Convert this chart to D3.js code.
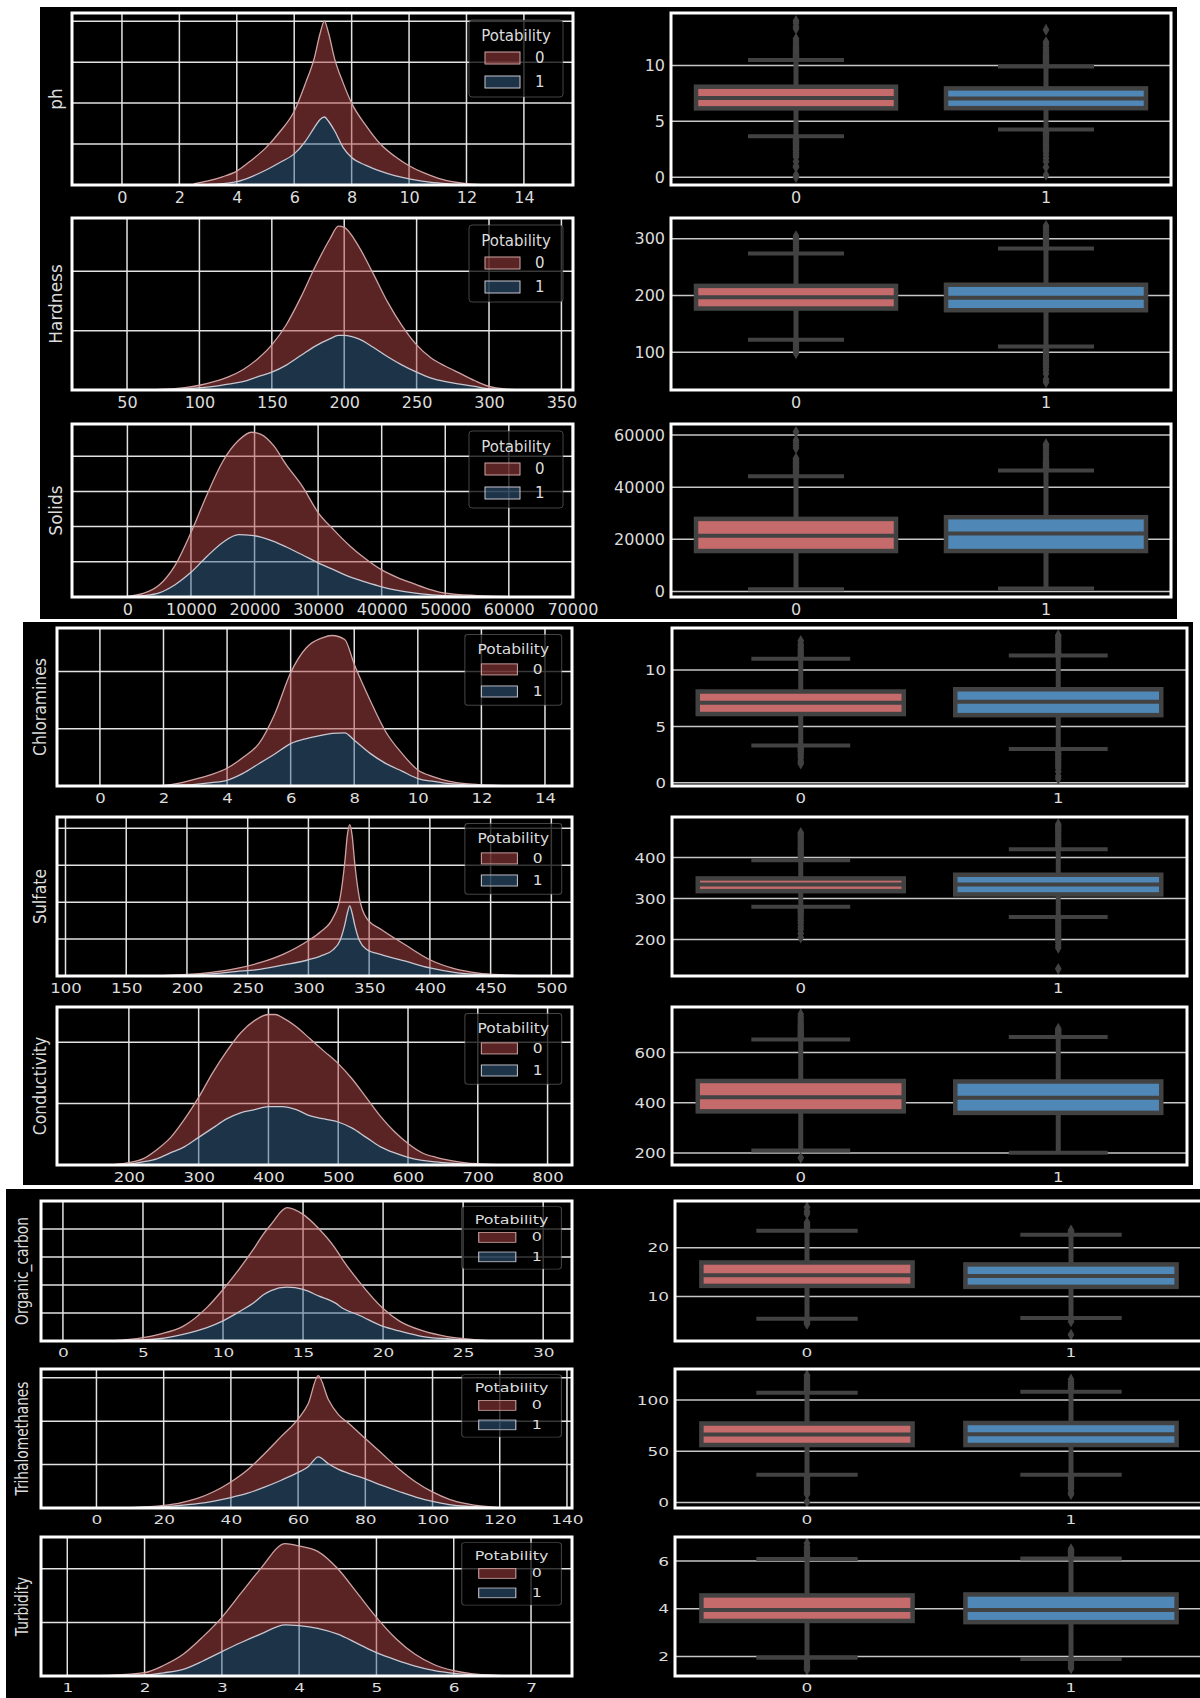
<!DOCTYPE html>
<html><head><meta charset="utf-8">
<script src="https://cdn.jsdelivr.net/npm/d3@7"></script>
<style>
html,body{margin:0;padding:0;background:#fff;}
svg{display:block;}
text{font-family:"DejaVu Sans",sans-serif;}
</style></head><body>
<svg id="chart" width="1200" height="1698"></svg>
<script>
// ---------------- data ----------------
const features = ["ph","Hardness","Solids","Chloramines","Sulfate","Conductivity","Organic_carbon","Trihalomethanes","Turbidity"];
const classes = ["0","1"];

// stacked density curves: x grid, total density (both classes), density of Potability = 1
const phX       = [2.5, 3, 3.5, 4, 4.5, 5, 5.5, 6, 6.4, 6.7, 6.9, 7.05, 7.2, 7.4, 7.7, 8, 8.5, 9, 9.5, 10, 10.5, 11, 11.5, 12, 12.5];
const phAll     = [0.003, 0.01, 0.02, 0.034, 0.06, 0.09, 0.13, 0.18, 0.25, 0.31, 0.37, 0.40, 0.37, 0.31, 0.25, 0.2, 0.145, 0.1, 0.07, 0.047, 0.03, 0.017, 0.008, 0.003, 0.001];
const phPotable = [0, 0.001, 0.003, 0.008, 0.02, 0.036, 0.055, 0.076, 0.108, 0.14, 0.16, 0.166, 0.155, 0.133, 0.092, 0.067, 0.048, 0.034, 0.023, 0.015, 0.009, 0.005, 0.002, 0.001, 0];

const hardX       = [70, 90, 100, 110, 120, 130, 140, 150, 160, 170, 180, 190, 196, 200, 210, 220, 230, 240, 250, 260, 270, 280, 290, 300, 310, 320, 330];
const hardAll     = [0.00003, 0.0002, 0.0004, 0.0007, 0.0011, 0.0017, 0.0026, 0.0038, 0.0055, 0.0078, 0.0104, 0.0127, 0.0138, 0.0137, 0.0121, 0.0098, 0.0074, 0.0054, 0.0038, 0.0027, 0.0020, 0.0014, 0.0008, 0.0003, 0.0001, 0.00003, 0];
const hardPotable = [0.00001, 0.0001, 0.0002, 0.0003, 0.0005, 0.0007, 0.0011, 0.0015, 0.0021, 0.0029, 0.0037, 0.0043, 0.0046, 0.0046, 0.0043, 0.0036, 0.0028, 0.0021, 0.0015, 0.001, 0.0007, 0.0005, 0.0003, 0.0001, 0.00005, 0.00001, 0];

const solidsX       = [0, 2500, 5000, 7500, 10000, 12500, 15000, 17500, 19500, 21000, 23000, 25000, 27500, 30000, 32500, 35000, 37500, 40000, 42500, 45000, 47500, 50000, 55000, 60000];
const solidsAll     = [0.02e-5, 0.1e-5, 0.34e-5, 0.9e-5, 1.83e-5, 2.9e-5, 3.85e-5, 4.45e-5, 4.68e-5, 4.62e-5, 4.3e-5, 3.75e-5, 3.15e-5, 2.4e-5, 1.9e-5, 1.45e-5, 1.08e-5, 0.77e-5, 0.55e-5, 0.38e-5, 0.22e-5, 0.11e-5, 0.04e-5, 0.01e-5];
const solidsPotable = [0.01e-5, 0.04e-5, 0.12e-5, 0.35e-5, 0.7e-5, 1.15e-5, 1.55e-5, 1.77e-5, 1.75e-5, 1.7e-5, 1.58e-5, 1.42e-5, 1.2e-5, 0.97e-5, 0.77e-5, 0.57e-5, 0.42e-5, 0.29e-5, 0.19e-5, 0.12e-5, 0.07e-5, 0.04e-5, 0.01e-5, 0];

const chlorX       = [1.5, 2, 2.5, 3, 3.5, 4, 4.5, 5, 5.5, 6, 6.5, 7, 7.3, 7.7, 8, 8.5, 9, 9.5, 10, 10.5, 11, 11.5, 12, 12.5, 13];
const chlorAll     = [0, 0.001, 0.005, 0.012, 0.02, 0.031, 0.05, 0.074, 0.126, 0.198, 0.242, 0.259, 0.263, 0.256, 0.213, 0.15, 0.094, 0.057, 0.028, 0.016, 0.008, 0.004, 0.002, 0.001, 0];
const chlorPotable = [0, 0.0005, 0.0015, 0.003, 0.006, 0.01, 0.022, 0.039, 0.056, 0.074, 0.083, 0.089, 0.092, 0.093, 0.08, 0.057, 0.039, 0.026, 0.013, 0.008, 0.004, 0.002, 0.001, 0.0005, 0];

const sulfX       = [180, 200, 220, 240, 260, 280, 300, 310, 320, 326, 330, 332, 334, 336, 338, 342, 348, 360, 380, 400, 420, 440, 460, 480];
const sulfAll     = [0.00005, 0.0002, 0.0005, 0.001, 0.0018, 0.003, 0.0048, 0.006, 0.0078, 0.0105, 0.0155, 0.019, 0.0205, 0.019, 0.0155, 0.0105, 0.0078, 0.0063, 0.0042, 0.0022, 0.001, 0.0004, 0.00015, 0.00003];
const sulfPotable = [0.00003, 0.0001, 0.0003, 0.0006, 0.0009, 0.0015, 0.0022, 0.0027, 0.0035, 0.0048, 0.0070, 0.0085, 0.0095, 0.0085, 0.007, 0.0048, 0.0036, 0.0029, 0.002, 0.0011, 0.0005, 0.0002, 0.0001, 0];

const condX       = [180, 200, 220, 240, 260, 280, 300, 320, 340, 360, 380, 400, 410, 420, 440, 460, 480, 500, 520, 540, 560, 580, 600, 620, 640, 660, 680, 700, 720, 740];
const condAll     = [0.00002, 0.00008, 0.0002, 0.0005, 0.0009, 0.0015, 0.0022, 0.0030, 0.0037, 0.0043, 0.0047, 0.0049, 0.0049, 0.0048, 0.0045, 0.0041, 0.0037, 0.0033, 0.0028, 0.0022, 0.0016, 0.0011, 0.0007, 0.0004, 0.00025, 0.00015, 0.00008, 0.00004, 0.00002, 0.00001];
const condPotable = [0.00001, 0.00003, 0.0001, 0.0002, 0.0004, 0.0006, 0.0009, 0.0012, 0.0015, 0.0017, 0.0018, 0.0019, 0.0019, 0.0019, 0.0018, 0.0016, 0.0015, 0.0014, 0.0012, 0.0009, 0.0006, 0.0004, 0.00025, 0.00015, 0.0001, 0.00006, 0.00003, 0.00002, 0.00001, 0];

const orgX       = [3, 5, 6, 7.5, 9, 10, 11, 12, 12.5, 13, 14, 15, 16, 17, 17.5, 18.5, 20, 21, 22.5, 24, 25, 27];
const orgAll     = [0, 0.003, 0.006, 0.013, 0.03, 0.046, 0.064, 0.084, 0.095, 0.104, 0.119, 0.113, 0.1, 0.083, 0.072, 0.053, 0.029, 0.018, 0.009, 0.004, 0.002, 0];
const orgPotable = [0, 0.001, 0.002, 0.006, 0.012, 0.018, 0.026, 0.035, 0.041, 0.045, 0.048, 0.046, 0.04, 0.034, 0.029, 0.023, 0.013, 0.009, 0.004, 0.002, 0.001, 0];

const triX       = [10, 20, 25, 30, 35, 40, 45, 50, 55, 60, 63, 66, 69, 72, 75, 80, 85, 90, 95, 100, 105, 110, 115, 120, 125];
const triAll     = [0.0001, 0.0006, 0.0012, 0.0022, 0.0038, 0.006, 0.0088, 0.0125, 0.0165, 0.0205, 0.024, 0.0305, 0.025, 0.0215, 0.0195, 0.016, 0.0125, 0.009, 0.006, 0.0037, 0.002, 0.001, 0.0004, 0.0001, 0.00003];
const triPotable = [0.00005, 0.0003, 0.0006, 0.001, 0.0016, 0.0024, 0.0034, 0.0048, 0.0064, 0.0082, 0.0095, 0.0118, 0.0102, 0.0089, 0.008, 0.0067, 0.0052, 0.0038, 0.0025, 0.0015, 0.0008, 0.0004, 0.0002, 0.00005, 0];

const turbX       = [1.3, 1.5, 2, 2.25, 2.5, 2.75, 3, 3.25, 3.5, 3.82, 4, 4.24, 4.5, 4.75, 5, 5.25, 5.5, 5.75, 6, 6.5, 7];
const turbAll     = [0, 0.002, 0.0125, 0.04, 0.081, 0.145, 0.219, 0.31, 0.40, 0.494, 0.485, 0.465, 0.40, 0.31, 0.219, 0.14, 0.081, 0.042, 0.02, 0.003, 0];
const turbPotable = [0, 0.001, 0.004, 0.012, 0.025, 0.055, 0.091, 0.125, 0.156, 0.191, 0.188, 0.178, 0.156, 0.122, 0.087, 0.06, 0.037, 0.02, 0.01, 0.002, 0];

// x-axis ranges and ticks of the density panels
const phRange = [-1.74, 15.71],     phTicks = [0, 2, 4, 6, 8, 10, 12, 14];
const hardRange = [12, 358],        hardTicks = [50, 100, 150, 200, 250, 300, 350];
const solidsRange = [-8715, 70095], solidsTicks = [0, 10000, 20000, 30000, 40000, 50000, 60000, 70000];
const chlorRange = [-1.35, 14.85],  chlorTicks = [0, 2, 4, 6, 8, 10, 12, 14];
const sulfRange = [93, 517],        sulfTicks = [100, 150, 200, 250, 300, 350, 400, 450, 500];
const condRange = [97, 835],        condTicks = [200, 300, 400, 500, 600, 700, 800];
const orgRange = [-1.37, 31.8],     orgTicks = [0, 5, 10, 15, 20, 25, 30];
const triRange = [-16.5, 141.5],    triTicks = [0, 20, 40, 60, 80, 100, 120, 140];
const turbRange = [0.66, 7.53],     turbTicks = [1, 2, 3, 4, 5, 6, 7];

// density grid levels
const phDens = [0, 0.1, 0.2, 0.3, 0.4];
const hardDens = [0, 0.005, 0.01];
const solidsDens = [0, 1e-5, 2e-5, 3e-5, 4e-5];
const chlorDens = [0, 0.1, 0.2];
const sulfDens = [0, 0.005, 0.01, 0.015, 0.02];
const condDens = [0, 0.002, 0.004];
const orgDens = [0, 0.025, 0.05, 0.075, 0.1];
const triDens = [0, 0.01, 0.02, 0.03];
const turbDens = [0, 0.2, 0.4];

// box statistics per class: [lower whisker, Q1, median, Q3, upper whisker]
const phBox0 = [3.66, 6.16, 7.08, 8.1, 10.5],        phBox1 = [4.28, 6.18, 7.04, 7.95, 9.9];
const hardBox0 = [122, 177, 197, 217, 274],          hardBox1 = [110, 174, 196, 219, 283];
const solidsBox0 = [930, 15530, 21360, 27845, 44155], solidsBox1 = [1170, 15530, 22290, 28500, 46370];
const chlorBox0 = [3.3, 6.1, 7.1, 8.1, 11.0],        chlorBox1 = [3.0, 6.0, 7.2, 8.3, 11.3];
const sulfBox0 = [280, 318, 334, 349, 393],          sulfBox1 = [255, 310, 334, 358, 420];
const condBox0 = [210, 366, 422, 487, 652],          condBox1 = [201, 360, 420, 485, 662];
const orgBox0 = [5.45, 12.2, 14.4, 17.0, 23.5],      orgBox1 = [5.6, 12.0, 14.2, 16.6, 22.7];
const triBox0 = [27, 56, 66.3, 77, 107],             triBox1 = [27, 56, 66.4, 77.5, 108];
const turbBox0 = [1.95, 3.49, 3.95, 4.56, 6.08],     turbBox1 = [1.9, 3.44, 3.95, 4.6, 6.1];

// outliers per class
const phOut0 = [0, 0.2, 0.9, 1.0, 1.4, 1.8, 2.0, 2.2, 2.4, 2.5, 2.6, 2.7, 2.8, 2.9, 3.0, 3.1, 3.2, 3.3, 3.4, 3.5, 3.6, 10.6, 10.7, 10.8, 10.9, 11.0, 11.1, 11.2, 11.3, 11.4, 11.5, 11.6, 11.8, 12.0, 12.2, 12.4, 13.3, 13.5, 13.8, 14.0];
const phOut1 = [0.2, 0.9, 1.4, 1.7, 2.0, 2.3, 2.5, 2.7, 2.9, 3.1, 3.3, 3.5, 3.6, 3.7, 3.8, 3.9, 4.0, 4.1, 4.2, 10.0, 10.1, 10.2, 10.3, 10.4, 10.5, 10.6, 10.7, 10.8, 10.9, 11.0, 11.2, 11.4, 11.6, 11.9, 12.1, 13.2];
const hardOut0 = [98, 102, 106, 110, 114, 117, 277, 281, 285, 289, 293, 297, 301, 305];
const hardOut1 = [47, 52, 62, 68, 73, 77, 81, 85, 88, 92, 95, 98, 101, 104, 107, 286, 289, 292, 295, 298, 301, 304, 307, 311, 315, 319, 323];
const solidsOut0 = [44500, 45000, 45500, 46000, 46500, 47000, 47500, 48000, 48500, 49000, 49500, 50000, 50500, 51000, 55000, 56000, 57000, 58000, 61200];
const solidsOut1 = [47000, 47500, 48000, 48500, 49000, 49500, 50000, 51000, 52000, 53000, 54000, 55000, 56000, 56500];
const chlorOut0 = [1.7, 1.9, 2.2, 2.4, 2.6, 2.8, 2.9, 3.0, 3.1, 3.2, 11.1, 11.2, 11.35, 11.5, 11.7, 11.9, 12.1, 12.3, 12.6];
const chlorOut1 = [0.35, 0.6, 1.0, 1.3, 1.5, 1.7, 1.9, 2.1, 2.3, 2.5, 2.6, 2.8, 2.9, 11.4, 11.5, 11.6, 11.8, 12.0, 12.2, 12.4, 12.6, 12.8, 13.0, 13.1];
const sulfOut0 = [205, 215, 225, 232, 240, 246, 252, 258, 263, 268, 272, 276, 397, 402, 407, 412, 417, 422, 427, 432, 437, 442, 447, 452, 456, 460];
const sulfOut1 = [129, 180, 187, 194, 200, 206, 212, 218, 224, 230, 236, 242, 248, 252, 424, 428, 433, 438, 443, 448, 453, 458, 463, 468, 473, 477, 481];
const condOut0 = [181, 657, 662, 667, 672, 677, 682, 688, 694, 700, 707, 714, 722, 732, 742, 753];
const condOut1 = [667, 672, 677, 683, 689, 695];
const orgOut0 = [4.4, 4.6, 4.8, 5.0, 5.2, 24.0, 24.3, 24.6, 24.9, 25.2, 27.0, 27.5, 28.3];
const orgOut1 = [2.2, 4.9, 23.2, 23.4, 23.6];
const triOut0 = [0.7, 8, 10, 12, 14, 16, 18, 20, 22, 24, 25.5, 108.5, 110, 111.5, 113, 114.5, 116, 118, 120, 122, 124];
const triOut1 = [8, 10, 13, 15, 17, 19, 21, 23, 25, 109.5, 111, 113, 115, 117, 120];
const turbOut0 = [1.45, 1.55, 1.65, 1.75, 1.85, 1.9, 6.15, 6.2, 6.3, 6.4, 6.5, 6.6, 6.74];
const turbOut1 = [1.5, 1.6, 1.7, 1.8, 1.85, 6.15, 6.2, 6.25, 6.3, 6.35, 6.4, 6.45, 6.5];

// box-panel value ticks
const phBoxTicks = [0, 5, 10];
const hardBoxTicks = [100, 200, 300];
const solidsBoxTicks = [0, 20000, 40000, 60000];
const chlorBoxTicks = [0, 5, 10];
const sulfBoxTicks = [200, 300, 400];
const condBoxTicks = [200, 400, 600];
const orgBoxTicks = [10, 20];
const triBoxTicks = [0, 50, 100];
const turbBoxTicks = [2, 4, 6];

// table assembled for drawing
const table = [
  {x: phX, all: phAll, pot: phPotable, range: phRange, ticks: phTicks, dens: phDens, box: [phBox0, phBox1], out: [phOut0, phOut1], bticks: phBoxTicks},
  {x: hardX, all: hardAll, pot: hardPotable, range: hardRange, ticks: hardTicks, dens: hardDens, box: [hardBox0, hardBox1], out: [hardOut0, hardOut1], bticks: hardBoxTicks},
  {x: solidsX, all: solidsAll, pot: solidsPotable, range: solidsRange, ticks: solidsTicks, dens: solidsDens, box: [solidsBox0, solidsBox1], out: [solidsOut0, solidsOut1], bticks: solidsBoxTicks},
  {x: chlorX, all: chlorAll, pot: chlorPotable, range: chlorRange, ticks: chlorTicks, dens: chlorDens, box: [chlorBox0, chlorBox1], out: [chlorOut0, chlorOut1], bticks: chlorBoxTicks},
  {x: sulfX, all: sulfAll, pot: sulfPotable, range: sulfRange, ticks: sulfTicks, dens: sulfDens, box: [sulfBox0, sulfBox1], out: [sulfOut0, sulfOut1], bticks: sulfBoxTicks},
  {x: condX, all: condAll, pot: condPotable, range: condRange, ticks: condTicks, dens: condDens, box: [condBox0, condBox1], out: [condOut0, condOut1], bticks: condBoxTicks},
  {x: orgX, all: orgAll, pot: orgPotable, range: orgRange, ticks: orgTicks, dens: orgDens, box: [orgBox0, orgBox1], out: [orgOut0, orgOut1], bticks: orgBoxTicks},
  {x: triX, all: triAll, pot: triPotable, range: triRange, ticks: triTicks, dens: triDens, box: [triBox0, triBox1], out: [triOut0, triOut1], bticks: triBoxTicks},
  {x: turbX, all: turbAll, pot: turbPotable, range: turbRange, ticks: turbTicks, dens: turbDens, box: [turbBox0, turbBox1], out: [turbOut0, turbOut1], bticks: turbBoxTicks}
];

// ---------------- layout ----------------
// three stacked dark blocks, each holding three rows of (density, box) panels;
// kx/ky are the horizontal/vertical text scale of each block
const sections = [
  {bg: [40, 7, 1177, 619],    kde: [72, 573], box: [671, 1171], rows: [[13, 185], [218, 390], [424, 597]],    kx: 1.0,  ky: 1.0,  lab: 10},
  {bg: [23, 622, 1193, 1185], kde: [57, 572], box: [672, 1187], rows: [[628, 786], [817, 976], [1007, 1165]], kx: 1.03, ky: 0.92, lab: 11},
  {bg: [6, 1189, 1200, 1698], kde: [41, 572], box: [675, 1203], rows: [[1201, 1341], [1369, 1508], [1537, 1676]], kx: 1.06, ky: 0.81, lab: 13}
];
const TICK = 16, LABEL = 17, LEGEND = 15;

const C = {
  redFill: "rgba(180,72,72,0.5)", blueFill: "rgba(58,101,144,0.5)",
  redEdge: "#cfa3a3", blueEdge: "#c8c6d0",
  grid: "#e2e2e2", boxGrid: "#c6c6c6", frame: "#ffffff", text: "#dcdcdc",
  boxRed: "#c56b6b", boxBlue: "#4f88b7", boxLine: "#424242"
};

const svg = d3.select("#chart");

sections.forEach(s => {
  svg.append("rect").attr("x", s.bg[0]).attr("y", s.bg[1])
    .attr("width", s.bg[2] - s.bg[0]).attr("height", s.bg[3] - s.bg[1]).attr("fill", "#000");
});

// strip axis lines and squash tick text vertically by the block's ratio
function styleAxis(g, s, pad, bottom) {
  g.select(".domain").remove();
  g.selectAll(".tick line").remove();
  const r = s.ky / s.kx;
  g.selectAll("text").attr("fill", C.text)
    .style("font-size", (TICK * s.kx) + "px").style("font-family", "DejaVu Sans, sans-serif")
    .attr("transform", bottom ? `translate(0,${pad}) scale(1,${r}) translate(0,${-pad})` : `scale(1,${r})`);
}

function drawKde(f, name, s, row, idx) {
  const [x0, x1] = s.kde, [y0, y1] = row;
  const g = svg.append("g");
  const clipId = "clipk" + idx;
  g.append("clipPath").attr("id", clipId).append("rect")
    .attr("x", x0).attr("y", y0).attr("width", x1 - x0).attr("height", y1 - y0);

  const x = d3.scaleLinear().domain(f.range).range([x0, x1]);
  const yMax = d3.max(f.all) * 1.05;
  const y = d3.scaleLinear().domain([0, yMax]).range([y1, y0]);

  const inner = g.append("g").attr("clip-path", `url(#${clipId})`);
  inner.selectAll("line.v").data(f.ticks).join("line")
    .attr("x1", d => x(d)).attr("x2", d => x(d)).attr("y1", y0).attr("y2", y1)
    .attr("stroke", C.grid).attr("stroke-width", 1.5);
  inner.selectAll("line.h").data(f.dens).join("line")
    .attr("x1", x0).attr("x2", x1).attr("y1", d => y(d)).attr("y2", d => y(d))
    .attr("stroke", C.grid).attr("stroke-width", 1.5);

  const pts = f.x.map((v, i) => ({v, all: f.all[i], pot: f.pot[i]}));
  const curve = d3.curveMonotoneX;
  inner.append("path").datum(pts)
    .attr("d", d3.area().curve(curve).x(d => x(d.v)).y0(y(0)).y1(d => y(d.pot)))
    .attr("fill", C.blueFill);
  inner.append("path").datum(pts)
    .attr("d", d3.area().curve(curve).x(d => x(d.v)).y0(d => y(d.pot)).y1(d => y(d.all)))
    .attr("fill", C.redFill);
  inner.append("path").datum(pts)
    .attr("d", d3.line().curve(curve).x(d => x(d.v)).y(d => y(d.all)))
    .attr("fill", "none").attr("stroke", C.redEdge).attr("stroke-width", 1.3);
  inner.append("path").datum(pts)
    .attr("d", d3.line().curve(curve).x(d => x(d.v)).y(d => y(d.pot)))
    .attr("fill", "none").attr("stroke", C.blueEdge).attr("stroke-width", 1.3);

  // legend, laid out in base units and scaled with the block
  const lw = 94, lh = 77;
  const lx = x1 - 10 * s.kx - lw * s.kx, ly = y0 + 7 * s.ky;
  const lg = g.append("g").attr("transform", `translate(${lx},${ly}) scale(${s.kx},${s.ky})`);
  lg.append("rect").attr("width", lw).attr("height", lh).attr("rx", 3)
    .attr("fill", "rgba(0,0,0,0.75)").attr("stroke", "rgba(150,150,150,0.45)").attr("stroke-width", 1);
  lg.append("text").attr("x", lw / 2).attr("y", 21).attr("text-anchor", "middle")
    .attr("fill", C.text).style("font-size", LEGEND + "px").text("Potability");
  [[C.redFill, C.redEdge, "0"], [C.blueFill, C.blueEdge, "1"]].forEach((c, i) => {
    const sy = 32 + i * 24;
    lg.append("rect").attr("x", 16).attr("y", sy).attr("width", 35).attr("height", 12)
      .attr("fill", c[0]).attr("stroke", c[1]).attr("stroke-width", 1);
    lg.append("text").attr("x", 66).attr("y", sy + 11)
      .attr("fill", C.text).style("font-size", LEGEND + "px").text(c[2]);
  });

  g.append("rect").attr("x", x0).attr("y", y0).attr("width", x1 - x0).attr("height", y1 - y0)
    .attr("fill", "none").attr("stroke", C.frame).attr("stroke-width", 3);

  const pad = 7;
  const ax = g.append("g").attr("transform", `translate(0,${y1})`)
    .call(d3.axisBottom(x).tickValues(f.ticks).tickSize(0).tickPadding(pad).tickFormat(d3.format("d")));
  styleAxis(ax, s, pad, true);

  g.append("text")
    .attr("transform", `translate(${x0 - s.lab},${(y0 + y1) / 2}) rotate(-90) scale(${s.ky / s.kx},1)`)
    .attr("text-anchor", "middle").attr("fill", C.text)
    .style("font-size", (LABEL * s.kx) + "px").text(name);
}

function drawBox(f, s, row, idx) {
  const [x0, x1] = s.box, [y0, y1] = row;
  const g = svg.append("g");
  const clipId = "clipb" + idx;
  g.append("clipPath").attr("id", clipId).append("rect")
    .attr("x", x0).attr("y", y0).attr("width", x1 - x0).attr("height", y1 - y0);

  const all = f.out[0].concat(f.out[1], f.box[0], f.box[1]);
  const lo = d3.min(all), hi = d3.max(all), pad = (hi - lo) * 0.05;
  const y = d3.scaleLinear().domain([lo - pad, hi + pad]).range([y1, y0]);
  const xb = d3.scaleBand().domain(classes).range([x0, x1]);
  const bw = xb.bandwidth() * 0.8, cw = bw * 0.48;

  const inner = g.append("g").attr("clip-path", `url(#${clipId})`);
  inner.selectAll("line.h").data(f.bticks).join("line")
    .attr("x1", x0).attr("x2", x1).attr("y1", d => y(d)).attr("y2", d => y(d))
    .attr("stroke", C.boxGrid).attr("stroke-width", 1.5);

  classes.forEach((c, i) => {
    const b = f.box[i];
    const cx = xb(c) + xb.bandwidth() / 2;
    const fill = i === 0 ? C.boxRed : C.boxBlue;
    inner.append("line").attr("x1", cx).attr("x2", cx).attr("y1", y(b[0])).attr("y2", y(b[1]))
      .attr("stroke", C.boxLine).attr("stroke-width", 5);
    inner.append("line").attr("x1", cx).attr("x2", cx).attr("y1", y(b[3])).attr("y2", y(b[4]))
      .attr("stroke", C.boxLine).attr("stroke-width", 5);
    [b[0], b[4]].forEach(v => {
      inner.append("line").attr("x1", cx - cw / 2).attr("x2", cx + cw / 2).attr("y1", y(v)).attr("y2", y(v))
        .attr("stroke", C.boxLine).attr("stroke-width", 4);
    });
    inner.append("rect").attr("x", cx - bw / 2).attr("y", y(b[3])).attr("width", bw)
      .attr("height", y(b[1]) - y(b[3])).attr("fill", fill)
      .attr("stroke", C.boxLine).attr("stroke-width", 4.5);
    inner.append("line").attr("x1", cx - bw / 2).attr("x2", cx + bw / 2).attr("y1", y(b[2])).attr("y2", y(b[2]))
      .attr("stroke", C.boxLine).attr("stroke-width", 4);
    inner.selectAll(null).data(f.out[i]).join("path")
      .attr("d", d3.symbol(d3.symbolDiamond, 40))
      .attr("transform", d => `translate(${cx},${y(d)})`)
      .attr("fill", C.boxLine);
  });

  g.append("rect").attr("x", x0).attr("y", y0).attr("width", x1 - x0).attr("height", y1 - y0)
    .attr("fill", "none").attr("stroke", C.frame).attr("stroke-width", 3);

  const ay = g.append("g").attr("transform", `translate(${x0},0)`)
    .call(d3.axisLeft(y).tickValues(f.bticks).tickSize(0).tickPadding(6).tickFormat(d3.format("d")));
  styleAxis(ay, s, 0, false);
  const pb = 7;
  const ax = g.append("g").attr("transform", `translate(0,${y1})`)
    .call(d3.axisBottom(xb).tickSize(0).tickPadding(pb));
  styleAxis(ax, s, pb, true);
}

features.forEach((name, i) => {
  const s = sections[Math.floor(i / 3)];
  const row = s.rows[i % 3];
  drawKde(table[i], name, s, row, i);
  drawBox(table[i], s, row, i);
});
</script>
</body></html>
